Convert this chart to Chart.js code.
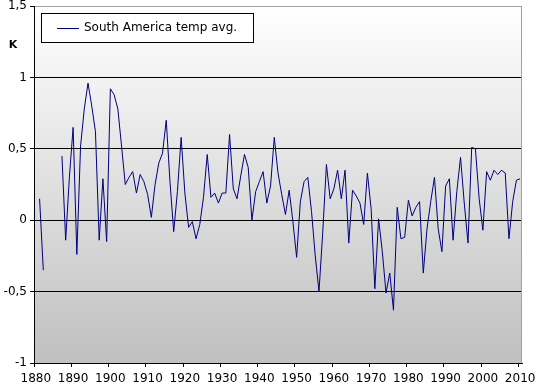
<!DOCTYPE html>
<html>
<head>
<meta charset="utf-8">
<script src="https://cdn.jsdelivr.net/npm/chart.js@4.4.0/dist/chart.umd.min.js"></script>
<style>
html,body{margin:0;padding:0;background:#ffffff;}
#wrap{position:relative;width:539px;height:387px;}
</style>
</head>
<body>
<div id="wrap"><canvas id="c" width="539" height="387"></canvas></div>
<script>
// ---- data ----
const years = [
  '1880','1881','1882','1883','1884','1885','1886','1887','1888','1889',
  '1890','1891','1892','1893','1894','1895','1896','1897','1898','1899',
  '1900','1901','1902','1903','1904','1905','1906','1907','1908','1909',
  '1910','1911','1912','1913','1914','1915','1916','1917','1918','1919',
  '1920','1921','1922','1923','1924','1925','1926','1927','1928','1929',
  '1930','1931','1932','1933','1934','1935','1936','1937','1938','1939',
  '1940','1941','1942','1943','1944','1945','1946','1947','1948','1949',
  '1950','1951','1952','1953','1954','1955','1956','1957','1958','1959',
  '1960','1961','1962','1963','1964','1965','1966','1967','1968','1969',
  '1970','1971','1972','1973','1974','1975','1976','1977','1978','1979',
  '1980','1981','1982','1983','1984','1985','1986','1987','1988','1989',
  '1990','1991','1992','1993','1994','1995','1996','1997','1998','1999',
  '2000','2001','2002','2003','2004','2005','2006','2007','2008','2009',
  '2010'
];
const tempAvg = [
  null, 0.15, -0.35, null, null, null, null, 0.45, -0.14, 0.30,
  0.65, -0.24, 0.52, 0.78, 0.96, 0.80, 0.62, -0.14, 0.29, -0.15,
  0.92, 0.88, 0.78, 0.52, 0.25, 0.30, 0.34, 0.19, 0.32, 0.27,
  0.18, 0.02, 0.25, 0.40, 0.47, 0.70, 0.27, -0.08, 0.20, 0.58,
  0.19, -0.05, -0.01, -0.13, -0.03, 0.16, 0.46, 0.16, 0.19, 0.12,
  0.19, 0.19, 0.60, 0.22, 0.15, 0.31, 0.46, 0.37, 0.00, 0.20,
  0.27, 0.34, 0.12, 0.24, 0.58, 0.33, 0.18, 0.04, 0.21, -0.01,
  -0.26, 0.13, 0.27, 0.30, 0.06, -0.25, -0.50, -0.09, 0.39, 0.15,
  0.22, 0.35, 0.15, 0.35, -0.16, 0.21, 0.17, 0.12, -0.03, 0.33,
  0.08, -0.48, 0.01, -0.22, -0.51, -0.37, -0.63, 0.09, -0.13, -0.12,
  0.14, 0.03, 0.09, 0.13, -0.37, -0.06, 0.13, 0.30, -0.06, -0.22,
  0.24, 0.29, -0.14, 0.20, 0.44, 0.12, -0.16, 0.51, 0.50, 0.15,
  -0.07, 0.34, 0.28, 0.35, 0.32, 0.35, 0.33, -0.13, 0.13, 0.28,
  0.29
];
const xTickLabels = ['1880','1890','1900','1910','1920','1930','1940','1950','1960','1970','1980','1990','2000','2010'];
const yTickLabels = ['-1','-0,5','0','0,5','1','1,5'];
const seriesLabel = 'South America temp avg.';
const unitLabel = 'K';

const FONT = "'DejaVu Sans', Verdana, sans-serif";
Chart.defaults.font.family = FONT;
Chart.defaults.font.size = 12;
Chart.defaults.color = '#000000';

const plotDecor = {
  id: 'plotDecor',
  beforeDraw(chart) {
    const ctx = chart.ctx, a = chart.chartArea;
    const g = ctx.createLinearGradient(0, a.top, 0, a.bottom);
    g.addColorStop(0, '#ffffff');
    g.addColorStop(1, '#c0c0c0');
    ctx.save();
    ctx.fillStyle = g;
    ctx.fillRect(a.left, a.top, a.right - a.left, a.bottom - a.top);
    ctx.restore();
  },
  afterDraw(chart) {
    const ctx = chart.ctx, a = chart.chartArea;
    ctx.save();
    // right border
    ctx.strokeStyle = '#a0a0a0';
    ctx.lineWidth = 1;
    const rx = Math.round(a.right) - 0.5;
    ctx.beginPath();
    ctx.moveTo(rx, Math.round(a.top) + 0.5);
    ctx.lineTo(rx, Math.round(a.bottom));
    ctx.stroke();
    // legend box
    const ds = chart.data.datasets[0];
    ctx.fillStyle = '#ffffff';
    ctx.fillRect(41, 13, 212, 29);
    ctx.strokeStyle = '#000000';
    ctx.strokeRect(41.5, 13.5, 212, 29);
    ctx.strokeStyle = ds.borderColor;
    ctx.beginPath();
    ctx.moveTo(57, 28.5);
    ctx.lineTo(79, 28.5);
    ctx.stroke();
    ctx.fillStyle = '#000000';
    ctx.font = '12px ' + FONT;
    ctx.textBaseline = 'middle';
    ctx.textAlign = 'left';
    ctx.fillText(ds.label, 84, 28);
    // unit label
    ctx.font = 'bold 11px ' + FONT;
    ctx.textAlign = 'center';
    ctx.fillText(unitLabel, 13, 45);
    ctx.restore();
  }
};

new Chart(document.getElementById('c'), {
  type: 'line',
  data: {
    labels: years,
    datasets: [{
      label: seriesLabel,
      data: tempAvg,
      borderColor: '#000080',
      borderWidth: 1,
      pointRadius: 0,
      pointHoverRadius: 0,
      fill: false,
      tension: 0,
      spanGaps: false
    }]
  },
  options: {
    responsive: false,
    animation: false,
    devicePixelRatio: 1,
    layout: { padding: { top: 6, right: 17, left: 0, bottom: 0 } },
    plugins: { legend: { display: false }, tooltip: { enabled: false } },
    scales: {
      x: {
        type: 'category',
        offset: true,
        afterFit(s) { s.height = 24; s.paddingLeft = 0; s.paddingRight = 0; },
        grid: {
          offset: true,
          drawOnChartArea: false,
          tickLength: 4,
          color: (c) => (c.index < years.length && xTickLabels.includes(years[c.index])) ? '#000000' : 'rgba(0,0,0,0)'
        },
        border: { color: '#000000', width: 1 },
        ticks: {
          autoSkip: false, maxRotation: 0, minRotation: 0, padding: 5,
          callback(v, i) { return xTickLabels.includes(years[i]) ? years[i] : ''; }
        }
      },
      y: {
        min: -1, max: 1.5,
        afterFit(s) { s.width = 34; s.paddingTop = 0; s.paddingBottom = 0; },
        grid: {
          color: (c) => (c.tick && c.tick.value === 1.5) ? '#a0a0a0' : '#000000',
          tickColor: '#000000',
          tickLength: 4
        },
        border: { color: '#000000', width: 1 },
        ticks: {
          stepSize: 0.5, padding: 3,
          callback(v, i) { return yTickLabels[i]; }
        }
      }
    }
  },
  plugins: [plotDecor]
});
</script>
</body>
</html>
